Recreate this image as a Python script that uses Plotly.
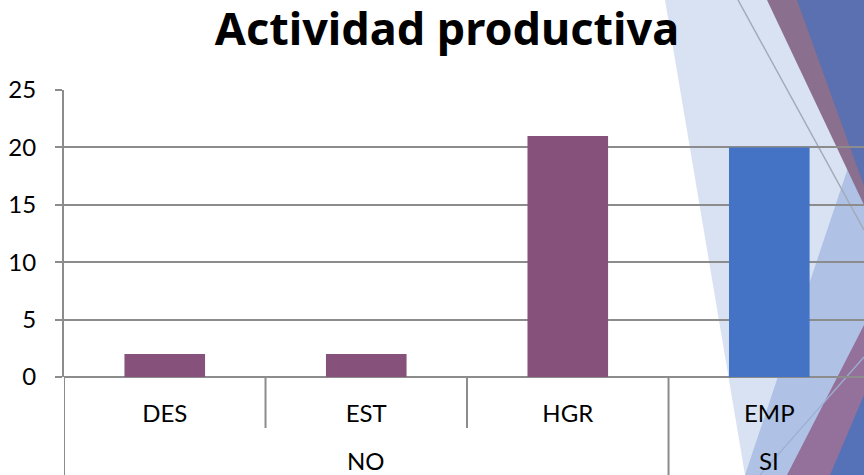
import plotly.graph_objects as go

# ---- data ----
categories = ["DES", "EST", "HGR", "EMP"]
groups = ["NO", "NO", "NO", "SI"]
values = [2, 2, 21, 20]
group_colors = {"NO": "#86527C", "SI": "#4472C4"}
y_ticks = [0, 5, 10, 15, 20, 25]
title_text = "Actividad productiva"

W, H = 864, 475
ML, MR, MT, MB = 64, 0, 90, 98
PW, PH = W - ML - MR, H - MT - MB
FONT = "Lato"
TITLE_FONT = "Noto Sans"
GRID = "#8C8C8C"


def xp(px):
    return (px - ML) / PW


def yp(py):
    return (H - MB - py) / PH


fig = go.Figure()
fig.add_trace(go.Bar(
    x=categories, y=values,
    marker=dict(color=[group_colors[g] for g in groups], line=dict(width=0)),
    width=0.4, showlegend=False, hoverinfo="skip",
))

shapes = []


def poly(pts, color, opacity=1.0):
    path = "M " + " L ".join(f"{xp(a):.5f},{yp(b):.5f}" for a, b in pts) + " Z"
    shapes.append(dict(type="path", path=path, xref="paper", yref="paper",
                       fillcolor=color, opacity=opacity, line=dict(width=0), layer="below"))


def seg(p0, p1, color, width=1.2):
    shapes.append(dict(type="line", xref="paper", yref="paper",
                       x0=xp(p0[0]), y0=yp(p0[1]), x1=xp(p1[0]), y1=yp(p1[1]),
                       line=dict(color=color, width=width), layer="below"))


# decorative slide background (right side)
poly([(665, 0), (864, 0), (864, 475), (745, 475)], "#D9E2F3")
poly([(745, 475), (864, 120), (864, 475)], "#AFC2E5")
poly([(767, 0), (864, 0), (864, 205)], "#8A6F8E")
poly([(797, 0), (864, 0), (864, 186)], "#5A70B0")
poly([(787, 475), (864, 325), (864, 475)], "#93719B")
poly([(830, 475), (864, 395), (864, 475)], "#5571B8")
seg((738, 0), (864, 230), "#A3A9B8", 1.5)
seg((760, 475), (864, 357), "#9DAFD3", 1.2)

# category dividers below the x axis
n = len(categories)
for i in range(n):
    b = i - 0.5
    long_line = (i == 0) or (groups[i] != groups[i - 1])
    shapes.append(dict(type="line", xref="x", yref="paper", x0=b, x1=b,
                       y0=0, y1=yp(475) if long_line else yp(428),
                       line=dict(color=GRID, width=2), layer="above"))

# group labels
annotations = []
seen = []
for g in groups:
    if g not in seen:
        seen.append(g)
for g in seen:
    idx = [i for i, gg in enumerate(groups) if gg == g]
    annotations.append(dict(x=sum(idx) / len(idx), y=yp(460), xref="x", yref="paper",
                            text=g, showarrow=False, yanchor="middle",
                            font=dict(family=FONT, size=24, color="#000")))

fig.update_layout(
    width=W, height=H,
    margin=dict(l=ML, r=MR, t=MT, b=MB),
    paper_bgcolor="white", plot_bgcolor="rgba(0,0,0,0)",
    title=dict(text=f"<b>{title_text}</b>", x=xp(447), xref="paper", xanchor="center",
               y=1 - 29 / H, yref="container", yanchor="middle",
               font=dict(family=TITLE_FONT, size=45, color="#000")),
    shapes=shapes, annotations=annotations,
    bargap=0.6,
    xaxis=dict(type="category", range=[-0.5, n - 0.53], showgrid=False, showline=False,
               zeroline=False, ticks="", ticklabelstandoff=20, fixedrange=True,
               tickfont=dict(family=FONT, size=24, color="#000")),
    yaxis=dict(range=[0, 25], tickvals=y_ticks, showgrid=True, gridcolor=GRID, gridwidth=2,
               zeroline=True, zerolinecolor=GRID, zerolinewidth=2,
               showline=True, linecolor=GRID, linewidth=2, fixedrange=True,
               ticks="outside", ticklen=7, tickwidth=2, tickcolor=GRID,
               ticklabelstandoff=14,
               tickfont=dict(family=FONT, size=24, color="#000")),
)

fig.write_html("out.html", config={"displayModeBar": False},
               post_script="document.body.style.margin='0';document.body.style.overflow='hidden';")
